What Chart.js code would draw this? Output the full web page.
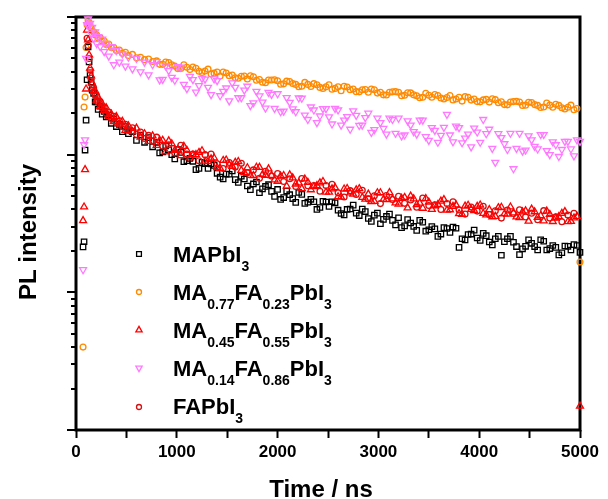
<!DOCTYPE html>
<html>
<head>
<meta charset="utf-8">
<script src="https://cdn.jsdelivr.net/npm/chart.js@4.4.1/dist/chart.umd.min.js"></script>
<style>
html, body { margin: 0; padding: 0; background: #fff; }
#wrap { position: relative; width: 608px; height: 499px; }
.lg { position: absolute; left: 173px; font: bold 22px "Liberation Sans", Arial, sans-serif; line-height: 22px; white-space: nowrap; color: #000; }
.lg sub { font-size: 14px; position: relative; top: 9px; vertical-align: baseline; }
</style>
</head>
<body>
<div id="wrap">
  <canvas id="grafica" width="608" height="499"></canvas>
  <div class="lg" style="top:244px">MAPbI<sub>3</sub></div>
  <div class="lg" style="top:282px">MA<sub>0.77</sub>FA<sub>0.23</sub>PbI<sub>3</sub></div>
  <div class="lg" style="top:320px">MA<sub>0.45</sub>FA<sub>0.55</sub>PbI<sub>3</sub></div>
  <div class="lg" style="top:358px">MA<sub>0.14</sub>FA<sub>0.86</sub>PbI<sub>3</sub></div>
  <div class="lg" style="top:396px">FAPbI<sub>3</sub></div>
</div>
<script>
// tiempos (ns)
const time = [70, 80, 90, 100, 110, 120, 130, 140, 150, 160, 175, 190, 205, 220, 240, 260, 280, 300, 325, 350, 375, 400, 430, 460, 490, 520, 560, 600, 640, 680, 720, 760,
  800, 860, 920, 980, 1040, 1100, 1160, 1220, 1280, 1340, 1400, 1460, 1520, 1580, 1640, 1700, 1760, 1820, 1880, 1940,
  2000, 2060, 2120, 2180, 2240, 2300, 2360, 2420, 2480, 2540, 2600, 2660, 2720, 2780, 2840, 2900, 2960,
  3020, 3080, 3140, 3200, 3260, 3320, 3380, 3440, 3500, 3560, 3620, 3680, 3740, 3800, 3860, 3920, 3980,
  4040, 4100, 4160, 4220, 4280, 4340, 4400, 4460, 4520, 4580, 4640, 4700, 4760, 4820, 4880, 4940, 5000];

// segunda tanda de canales (entre los anteriores)
const time2 = [830, 890, 950, 1010, 1070, 1130, 1190, 1250, 1310, 1370, 1430, 1490, 1550, 1610, 1670, 1730, 1790, 1850, 1910, 1970,
  2030, 2090, 2150, 2210, 2270, 2330, 2390, 2450, 2510, 2570, 2630, 2690, 2750, 2810, 2870, 2930, 2990,
  3050, 3110, 3170, 3230, 3290, 3350, 3410, 3470, 3530, 3590, 3650, 3710, 3770, 3830, 3890, 3950,
  4010, 4070, 4130, 4190, 4250, 4310, 4370, 4430, 4490, 4550, 4610, 4670, 4730, 4790, 4850, 4910, 4970];

// intensidad PL normalizada
const mapbi3 = [0.0214, 0.0233, 0.108, 0.178, 0.35, 0.606, 0.471, 0.380, 0.337, 0.295, 0.279, 0.242, 0.242, 0.213, 0.225, 0.197, 0.206, 0.188, 0.194, 0.169, 0.181, 0.160, 0.166, 0.147, 0.160, 0.142, 0.147, 0.127, 0.139, 0.123, 0.133, 0.114,
  0.123, 0.1045, 0.108, 0.0931, 0.1039, 0.0903, 0.0895, 0.0795, 0.0861, 0.0858, 0.0732, 0.0666, 0.0721, 0.0659, 0.0697, 0.0592, 0.0613, 0.0529, 0.0588, 0.0541,
  0.0559, 0.0488, 0.0512, 0.0450, 0.0515, 0.0452, 0.0455, 0.0413, 0.0453, 0.0455, 0.0395, 0.0365, 0.0403, 0.0376, 0.0402, 0.0344, 0.0364,
  0.0315, 0.0356, 0.0333, 0.0348, 0.0304, 0.0319, 0.0282, 0.0323, 0.0285, 0.0289, 0.0265, 0.0291, 0.0298, 0.0212, 0.0240, 0.0265, 0.0248,
  0.0268, 0.0232, 0.0245, 0.0186, 0.0245, 0.0231, 0.0188, 0.0216, 0.0227, 0.0203, 0.0235, 0.0208, 0.0212, 0.0194, 0.0216, 0.0222, 0.0195];
const mapbi3b = [0.103, 0.116, 0.100, 0.109, 0.0889, 0.0940, 0.0779, 0.0879, 0.0795, 0.0836, 0.0687, 0.0723, 0.0761, 0.0628, 0.0666, 0.0556, 0.0633, 0.0564, 0.0605, 0.0498,
  0.0473, 0.0544, 0.0480, 0.0531, 0.0443, 0.0474, 0.0400, 0.0459, 0.0420, 0.0447, 0.0374, 0.0400, 0.0430, 0.0361, 0.0386, 0.0327, 0.0376,
  0.0339, 0.0370, 0.0309, 0.0295, 0.0338, 0.0301, 0.0333, 0.0278, 0.0300, 0.0255, 0.0295, 0.0272, 0.0292, 0.0245, 0.0263, 0.0283,
  0.0238, 0.0258, 0.0221, 0.0255, 0.0233, 0.0255, 0.0215, 0.0207, 0.0241, 0.0215, 0.0241, 0.0203, 0.0219, 0.0187, 0.0217, 0.0203, 0.0219];

const ma77 = [0.0040, 0.222, 0.262, 0.60, 0.88, 0.95, 0.91, 0.85, 0.84, 0.79, 0.78, 0.74, 0.74, 0.705, 0.71, 0.67, 0.67, 0.63, 0.635, 0.60, 0.60, 0.57, 0.575, 0.545, 0.555, 0.525, 0.535, 0.505, 0.51, 0.49, 0.495, 0.475,
  0.480, 0.453, 0.467, 0.440, 0.423, 0.432, 0.433, 0.404, 0.405, 0.386, 0.399, 0.399, 0.374, 0.362, 0.371, 0.355, 0.368, 0.352, 0.333, 0.349,
  0.344, 0.327, 0.340, 0.324, 0.314, 0.324, 0.328, 0.308, 0.311, 0.299, 0.311, 0.314, 0.296, 0.287, 0.296, 0.284, 0.296,
  0.284, 0.271, 0.286, 0.284, 0.270, 0.281, 0.268, 0.261, 0.270, 0.273, 0.258, 0.260, 0.250, 0.261, 0.264, 0.249, 0.243,
  0.250, 0.241, 0.251, 0.242, 0.230, 0.243, 0.241, 0.229, 0.239, 0.228, 0.222, 0.229, 0.232, 0.219, 0.221, 0.212, 0.0166];
const ma77b = [0.453, 0.471, 0.449, 0.422, 0.449, 0.416, 0.424, 0.396, 0.418, 0.391, 0.372, 0.392, 0.379, 0.359, 0.372, 0.374, 0.347, 0.336, 0.348, 0.350,
  0.325, 0.342, 0.329, 0.312, 0.335, 0.313, 0.322, 0.303, 0.322, 0.303, 0.291, 0.310, 0.300, 0.286, 0.297, 0.300, 0.280,
  0.272, 0.284, 0.287, 0.268, 0.282, 0.272, 0.259, 0.279, 0.261, 0.269, 0.254, 0.269, 0.254, 0.245, 0.261, 0.254,
  0.242, 0.252, 0.255, 0.238, 0.231, 0.241, 0.244, 0.228, 0.240, 0.231, 0.220, 0.237, 0.221, 0.228, 0.215, 0.229, 0.216];

const ma45 = [0.0332, 0.0417, 0.0779, 0.30, 0.804, 0.681, 0.530, 0.426, 0.373, 0.331, 0.288, 0.291, 0.249, 0.261, 0.223, 0.234, 0.209, 0.219, 0.189, 0.197, 0.174, 0.189, 0.167, 0.175, 0.150, 0.162, 0.147, 0.156, 0.134, 0.142, 0.125, 0.137,
  0.117, 0.127, 0.126, 0.1075, 0.0983, 0.1077, 0.0992, 0.1038, 0.0897, 0.0933, 0.0806, 0.0908, 0.0842, 0.0879, 0.0768, 0.0803, 0.0706, 0.0808, 0.0707, 0.0706,
  0.0641, 0.0706, 0.0714, 0.0612, 0.0566, 0.0630, 0.0585, 0.0624, 0.0534, 0.0565, 0.0495, 0.0563, 0.0527, 0.0555, 0.0489, 0.0517, 0.0458,
  0.0529, 0.0471, 0.0478, 0.0437, 0.0489, 0.0500, 0.0433, 0.0408, 0.0453, 0.0424, 0.0460, 0.0396, 0.0421, 0.0373, 0.0423, 0.0400, 0.0421,
  0.0374, 0.0399, 0.0356, 0.0415, 0.0370, 0.0378, 0.0349, 0.0391, 0.0402, 0.0351, 0.0330, 0.0368, 0.0346, 0.0375, 0.0326, 0.0347, 0.00149];
const ma45b = [0.127, 0.105, 0.120, 0.109, 0.115, 0.0947, 0.1001, 0.1068, 0.0892, 0.0946, 0.0796, 0.0914, 0.0823, 0.0892, 0.0741, 0.0707, 0.0810, 0.0716, 0.0789, 0.0655,
  0.0700, 0.0590, 0.0678, 0.0624, 0.0666, 0.0556, 0.0596, 0.0638, 0.0535, 0.0576, 0.0491, 0.0568, 0.0517, 0.0566, 0.0475, 0.0457, 0.0529,
  0.0473, 0.0530, 0.0446, 0.0482, 0.0411, 0.0478, 0.0445, 0.0480, 0.0401, 0.0435, 0.0472, 0.0398, 0.0432, 0.0369, 0.0429, 0.0392,
  0.0431, 0.0365, 0.0354, 0.0412, 0.0371, 0.0417, 0.0353, 0.0384, 0.0329, 0.0385, 0.0360, 0.0389, 0.0327, 0.0355, 0.0386, 0.0328, 0.0356];

const ma14 = [0.0146, 0.118, 0.128, 0.50, 0.88, 0.97, 0.86, 0.90, 0.76, 0.84, 0.70, 0.78, 0.64, 0.72, 0.61, 0.69, 0.56, 0.64, 0.52, 0.61, 0.45, 0.57, 0.47, 0.54, 0.44, 0.51, 0.42, 0.50, 0.40, 0.47, 0.38, 0.45,
  0.474, 0.352, 0.408, 0.347, 0.432, 0.302, 0.351, 0.317, 0.354, 0.273, 0.345, 0.288, 0.246, 0.308, 0.259, 0.314, 0.238, 0.267, 0.218, 0.274,
  0.277, 0.207, 0.240, 0.205, 0.257, 0.180, 0.211, 0.191, 0.216, 0.167, 0.211, 0.178, 0.153, 0.193, 0.164, 0.200, 0.152,
  0.171, 0.141, 0.180, 0.184, 0.139, 0.164, 0.141, 0.178, 0.127, 0.150, 0.138, 0.196, 0.124, 0.157, 0.132, 0.114, 0.146,
  0.180, 0.153, 0.088, 0.133, 0.109, 0.079, 0.143, 0.108, 0.128, 0.110, 0.140, 0.100, 0.118, 0.109, 0.125, 0.098, 0.125];
const ma14b = [0.349, 0.442, 0.364, 0.435, 0.324, 0.370, 0.285, 0.358, 0.308, 0.355, 0.268, 0.305, 0.332, 0.259, 0.294, 0.227, 0.288, 0.241, 0.283, 0.217,
  0.205, 0.260, 0.215, 0.258, 0.194, 0.222, 0.171, 0.216, 0.188, 0.217, 0.164, 0.189, 0.208, 0.163, 0.186, 0.145, 0.184,
  0.155, 0.184, 0.143, 0.137, 0.176, 0.147, 0.178, 0.135, 0.157, 0.123, 0.158, 0.139, 0.161, 0.122, 0.141, 0.156,
  0.123, 0.142, 0.111, 0.142, 0.120, 0.143, 0.111, 0.106, 0.137, 0.115, 0.140, 0.107, 0.124, 0.097, 0.125, 0.110, 0.128];

const fapbi3 = [null, null, null, null, 0.70, 0.62, 0.50, 0.41, 0.36, 0.322, 0.305, 0.270, 0.268, 0.240, 0.243, 0.218, 0.222, 0.199, 0.204, 0.184, 0.190, 0.171, 0.176, 0.160, 0.166, 0.150, 0.157, 0.140, 0.146, 0.131, 0.138, 0.125,
  0.134, 0.115, 0.118, 0.103, 0.117, 0.101, 0.101, 0.0902, 0.100, 0.101, 0.0859, 0.0794, 0.0877, 0.0812, 0.0865, 0.0740, 0.0775, 0.0673, 0.0758, 0.0699,
  0.0730, 0.0638, 0.0668, 0.0587, 0.0672, 0.0594, 0.0597, 0.0542, 0.0596, 0.0609, 0.0528, 0.0492, 0.0548, 0.0514, 0.0551, 0.0477, 0.0503,
  0.0441, 0.0505, 0.0473, 0.0498, 0.0443, 0.0468, 0.0415, 0.0484, 0.0427, 0.0433, 0.0400, 0.0442, 0.0455, 0.0397, 0.0370, 0.0416, 0.0389,
  0.0422, 0.0368, 0.0391, 0.0346, 0.0396, 0.0374, 0.0398, 0.0353, 0.0376, 0.0337, 0.0392, 0.0346, 0.0353, 0.0326, 0.0364, 0.0375, null];

const xTicks = [0, 1000, 2000, 3000, 4000, 5000];
const FONT = '"Liberation Sans", Arial, sans-serif';

function puntos(ts, vals) {
    return ts.map((t, i) => ({ x: t, y: vals[i] })).filter(p => p.y !== null);
}

// estilos de cada serie (mismo orden que la leyenda)
const series = [
    { label: 'MAPbI3', data: mapbi3, data2: mapbi3b, color: '#000000', style: 'rect', radius: 3.8, rotation: 0, order: 4 },
    { label: 'MA0.77FA0.23PbI3', data: ma77, data2: ma77b, color: '#ff8a00', style: 'circle', radius: 2.9, rotation: 0, order: 5 },
    { label: 'MA0.45FA0.55PbI3', data: ma45, data2: ma45b, color: '#ff0000', style: 'triangle', radius: 4, rotation: 0, order: 2 },
    { label: 'MA0.14FA0.86PbI3', data: ma14, data2: ma14b, color: '#ff78ff', style: 'triangle', radius: 4, rotation: 180, order: 1 },
    { label: 'FAPbI3', data: fapbi3, data2: [], color: '#d41010', style: 'circle', radius: 2.9, rotation: 0, order: 3 }
];

// marco, marcas del eje log, leyenda y titulos
const marco = {
    id: 'marco',
    beforeDatasetsDraw(chart) {
        const { ctx, chartArea: a, scales } = chart;
        const y = scales.y;
        ctx.save();
        ctx.strokeStyle = '#000';
        ctx.lineWidth = 2;
        for (let e = -3; e <= 0; e++) {
            for (let m = 1; m <= 9; m++) {
                const v = m * Math.pow(10, e);
                if (v > 1.0001) break;
                const py = Math.round(y.getPixelForValue(v));
                const len = m === 1 ? 9 : 5;
                ctx.beginPath();
                ctx.moveTo(a.left - len, py);
                ctx.lineTo(a.left, py);
                ctx.stroke();
            }
        }
        ctx.lineWidth = 3;
        ctx.strokeRect(a.left, a.top, a.right - a.left, a.bottom - a.top);
        ctx.restore();
    },
    afterDraw(chart) {
        const ctx = chart.ctx;
        ctx.save();
        const filas = [254, 292, 330, 368, 407];
        series.forEach((s, i) => {
            ctx.strokeStyle = s.color;
            ctx.fillStyle = 'rgba(0,0,0,0)';
            ctx.lineWidth = 1.3;
            Chart.helpers.drawPoint(ctx, { pointStyle: s.style, radius: s.radius - 0.4, rotation: s.rotation, borderWidth: 1.3 }, 139, filas[i]);
        });
        ctx.fillStyle = '#000';
        ctx.font = 'bold 24px ' + FONT;
        ctx.textAlign = 'center';
        ctx.textBaseline = 'alphabetic';
        ctx.fillText('Time / ns', 321, 497);
        ctx.translate(36, 232);
        ctx.rotate(-Math.PI / 2);
        ctx.fillText('PL intensity', 0, 0);
        ctx.restore();
    }
};

const ctx = document.getElementById('grafica').getContext('2d');
new Chart(ctx, {
    type: 'scatter',
    data: {
        datasets: series.map(s => ({
            label: s.label,
            data: puntos(time, s.data).concat(puntos(time2, s.data2)),
            order: s.order,
            pointStyle: s.style,
            pointRotation: s.rotation,
            pointRadius: s.radius,
            pointBorderWidth: 1.3,
            borderColor: s.color,
            backgroundColor: 'rgba(0,0,0,0)',
            showLine: false,
            clip: false
        }))
    },
    options: {
        responsive: false,
        animation: false,
        events: [],
        layout: { padding: { left: 0, right: 28, top: 17, bottom: 0 } },
        plugins: { legend: { display: false }, tooltip: { enabled: false } },
        scales: {
            x: {
                type: 'linear',
                min: 0,
                max: 5000,
                afterFit(scale) { scale.height = 69; },
                ticks: {
                    stepSize: 500,
                    autoSkip: false,
                    maxRotation: 0,
                    padding: 4,
                    color: '#000',
                    font: { family: FONT, size: 17, weight: 'bold' },
                    callback: v => xTicks.includes(v) ? String(v) : ''
                },
                grid: { drawOnChartArea: false, drawTicks: true, tickLength: 8, tickWidth: 2, tickColor: '#000' },
                border: { display: false }
            },
            y: {
                type: 'logarithmic',
                min: 0.001,
                max: 1,
                afterFit(scale) { scale.width = 76; },
                ticks: { display: false },
                grid: { display: false },
                border: { display: false }
            }
        }
    },
    plugins: [marco]
});
</script>
</body>
</html>
